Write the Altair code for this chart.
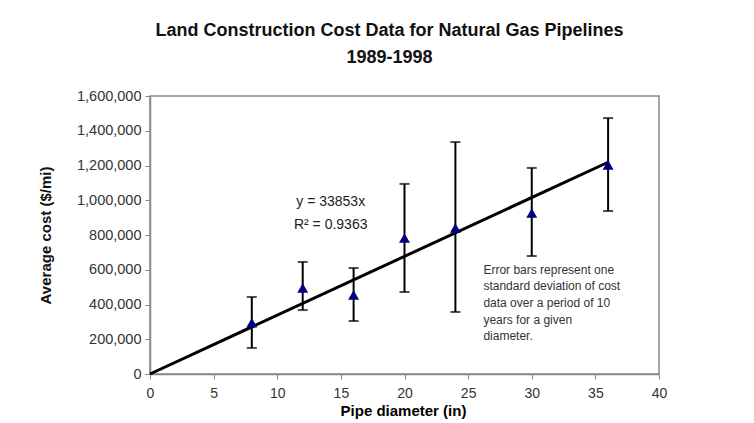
import altair as alt
import pandas as pd

diameter = [8, 12, 16, 20, 24, 30, 36]
avg_cost = [295000, 495000, 455000, 783000, 840000, 927000, 1203000]
lower = [150000, 368000, 305000, 472000, 357000, 679000, 938000]
upper = [443000, 645000, 610000, 1094000, 1335000, 1186000, 1473000]

trend_x = [0, 36]
trend_y = [0, 1218708]

eq_lines = ["y = 33853x", "R\u00b2 = 0.9363"]
eq_x = [14.2, 14.2]
eq_y = [990000, 858000]

note_text = ["Error bars represent one", "standard deviation of cost",
             "data over a period of 10", "years for a given", "diameter."]
note_x = [26.2]
note_y = [630000]

FONT = "Liberation Sans"
XT = "Pipe diameter (in)"
YT = "Average cost ($/mi)"

pts = pd.DataFrame({"d": diameter, "c": avg_cost, "lo": lower, "hi": upper})
trend = pd.DataFrame({"d": trend_x, "c": trend_y})
eq = pd.DataFrame({"d": eq_x, "c": eq_y, "t": eq_lines})
note = pd.DataFrame({"d": note_x, "c": note_y, "t": [note_text]})

xs = alt.Scale(domain=[0, 40], nice=False, zero=True)
ys = alt.Scale(domain=[0, 1600000], nice=False)

xax = alt.Axis(values=list(range(0, 41, 5)), title=XT, grid=False,
               tickSize=5, labelPadding=7, labelFontSize=14, labelColor="#333",
               labelFont=FONT, titleFont=FONT, titleFontSize=15, titleFontWeight="bold",
               titleColor="#000", titleBaseline="middle", titleY=36, titleX=253,
               labelOverlap=False, labelFlush=False,
               domainColor="#888", tickColor="#888", domainWidth=1.5)
yax = alt.Axis(values=list(range(0, 1600001, 200000)), format=",d", title=YT,
               grid=False, tickSize=5, labelPadding=4, labelFontSize=14.5, labelColor="#333",
               labelFont=FONT, titleFont=FONT, titleFontSize=15, titleFontWeight="bold",
               titleColor="#111", titleAngle=-90, titleAlign="center", titleBaseline="middle",
               titleX=-105, titleY=139, labelOverlap=False, labelFlush=False,
               domainColor="#888", tickColor="#888", domainWidth=1.5)

X = alt.X("d:Q", scale=xs, axis=xax, title=XT)
Y = alt.Y("c:Q", scale=ys, axis=yax, title=YT)

line = alt.Chart(trend).mark_line(color="black", strokeWidth=3).encode(x=X, y=Y)

err = alt.Chart(pts).mark_errorbar(ticks={"size": 10, "color": "black", "strokeWidth": 2},
                                   color="black", thickness=2).encode(
    x=X, y=alt.Y("lo:Q", scale=ys, axis=yax, title=YT), y2="hi:Q")

tri = alt.Chart(pts).mark_point(shape="triangle-up", filled=True, fill="#000080",
                                color="#000080", size=120, opacity=1).encode(x=X, y=Y)

eq_text = alt.Chart(eq).mark_text(font=FONT, fontSize=14, color="#222", align="center",
                                  baseline="middle").encode(x=X, y=Y, text="t:N")

note_mark = alt.Chart(note).mark_text(font=FONT, fontSize=12, color="#333", align="left",
                                      baseline="top", lineHeight=16.7).encode(
    x=X, y=Y, text="t")

chart = alt.layer(line, err, tri, eq_text, note_mark).properties(
    width=509, height=278,
    autosize=alt.AutoSizeParams(type="none"),
    padding={"left": 142, "top": 88, "right": 87, "bottom": 48},
    background="white",
    title=alt.TitleParams(["Land Construction Cost Data for Natural Gas Pipelines", "1989-1998"],
                          font=FONT, fontSize=18, fontWeight="bold", color="#111",
                          anchor="middle", dx=-15, lineHeight=27, offset=21,
                          baseline="top"),
).configure_view(stroke="#888", strokeWidth=1.5)

chart.save("out.html", embed_options={"renderer": "svg", "actions": False})
